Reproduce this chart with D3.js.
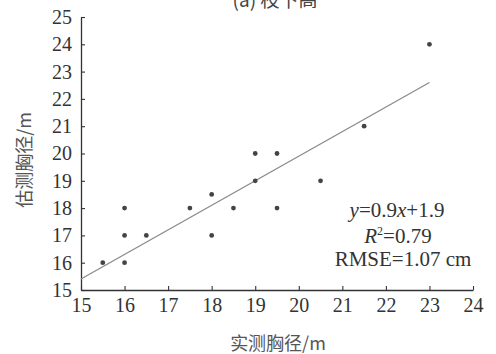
<!DOCTYPE html>
<html>
<head>
<meta charset="utf-8">
<script src="https://cdn.jsdelivr.net/npm/d3@7"></script>
<style>
  body { margin: 0; background: #fff; }
  svg { display: block; }
</style>
</head>
<body>
<svg id="chart" width="496" height="354"></svg>
<script>
// measured vs estimated DBH
const measured  = [15.5, 16, 16, 16, 16.5, 17.5, 18, 18, 18.5, 19, 19, 19.5, 19.5, 20.5, 21.5, 23];
const estimated = [16,   16, 17, 18, 17,   18,   17, 18.5, 18, 19, 20, 20,   18,   19,   21,   24];
const xTicks = [15, 16, 17, 18, 19, 20, 21, 22, 23, 24];
const yTicks = [15, 16, 17, 18, 19, 20, 21, 22, 23, 24, 25];
const fitLine = [[15, 15.4], [23, 22.6]];
const notes = ['y=0.9x+1.9', 'R2=0.79', 'RMSE=1.07 cm'];

const svg = d3.select('#chart');
const margin = { left: 81, right: 23, top: 17, bottom: 64 };
const W = 496, H = 354;

const x = d3.scaleLinear().domain([15, 24]).range([margin.left, W - margin.right]);
const y = d3.scaleLinear().domain([15, 25]).range([H - margin.bottom, margin.top]);

const serif = "'Liberation Serif', serif";
const cjk = "'Noto Sans CJK SC', sans-serif";

// title (cut off at the top in the source)
svg.append('text')
  .attr('x', 275).attr('y', 7)
  .attr('text-anchor', 'middle')
  .style('font-family', cjk).style('font-size', '19px').style('fill', '#444')
  .text('(a) 枝下高');

// axes, ticks point inward
const gx = svg.append('g')
  .attr('transform', 'translate(0,' + (H - margin.bottom) + ')')
  .call(d3.axisBottom(x).tickValues(xTicks).tickSizeInner(-4).tickSizeOuter(0).tickPadding(6));
const gy = svg.append('g')
  .attr('transform', 'translate(' + margin.left + ',0)')
  .call(d3.axisLeft(y).tickValues(yTicks).tickSizeInner(-4).tickSizeOuter(0).tickPadding(9));

[gx, gy].forEach(g => {
  g.attr('font-family', serif).attr('font-size', 20);
  g.select('.domain').attr('stroke', '#333').attr('stroke-width', 1.3);
  g.selectAll('.tick line').attr('stroke', '#333').attr('stroke-width', 1.1);
  g.selectAll('.tick text')
    .attr('fill', '#333')
    .style('font-family', serif)
    .style('font-size', '20px');
});
gx.selectAll('.tick text').attr('dy', '0.8em');

// regression line
svg.append('line')
  .attr('x1', x(fitLine[0][0])).attr('y1', y(fitLine[0][1]))
  .attr('x2', x(fitLine[1][0])).attr('y2', y(fitLine[1][1]))
  .attr('stroke', '#888').attr('stroke-width', 1.2);

// points
svg.selectAll('circle.pt')
  .data(measured.map((m, i) => [m, estimated[i]]))
  .enter().append('circle')
  .attr('class', 'pt')
  .attr('cx', d => x(d[0])).attr('cy', d => y(d[1]))
  .attr('r', 2.4)
  .attr('fill', '#444');

// axis labels
svg.append('text')
  .attr('x', 278).attr('y', 350)
  .attr('text-anchor', 'middle')
  .style('font-family', cjk).style('font-size', '18px').style('fill', '#555')
  .text('实测胸径/m');

svg.append('text')
  .attr('transform', 'translate(23,160) rotate(-90)')
  .attr('text-anchor', 'middle')
  .attr('dominant-baseline', 'central')
  .style('font-family', cjk).style('font-size', '18px').style('fill', '#555')
  .text('估测胸径/m');

// annotation
const ann = svg.append('g')
  .style('font-family', serif).style('font-size', '21px').style('fill', '#333');

const t1 = ann.append('text').attr('x', 397).attr('y', 217).attr('text-anchor', 'middle');
t1.append('tspan').style('font-style', 'italic').text('y');
t1.append('tspan').text('=0.9');
t1.append('tspan').style('font-style', 'italic').text('x');
t1.append('tspan').text('+1.9');

const t2 = ann.append('text').attr('x', 398).attr('y', 243).attr('text-anchor', 'middle');
t2.append('tspan').style('font-style', 'italic').text('R');
t2.append('tspan').attr('dy', -8).style('font-size', '12px').text('2');
t2.append('tspan').attr('dy', 8).text('=0.79');

ann.append('text').attr('x', 403).attr('y', 266).attr('text-anchor', 'middle').text(notes[2]);
</script>
</body>
</html>
